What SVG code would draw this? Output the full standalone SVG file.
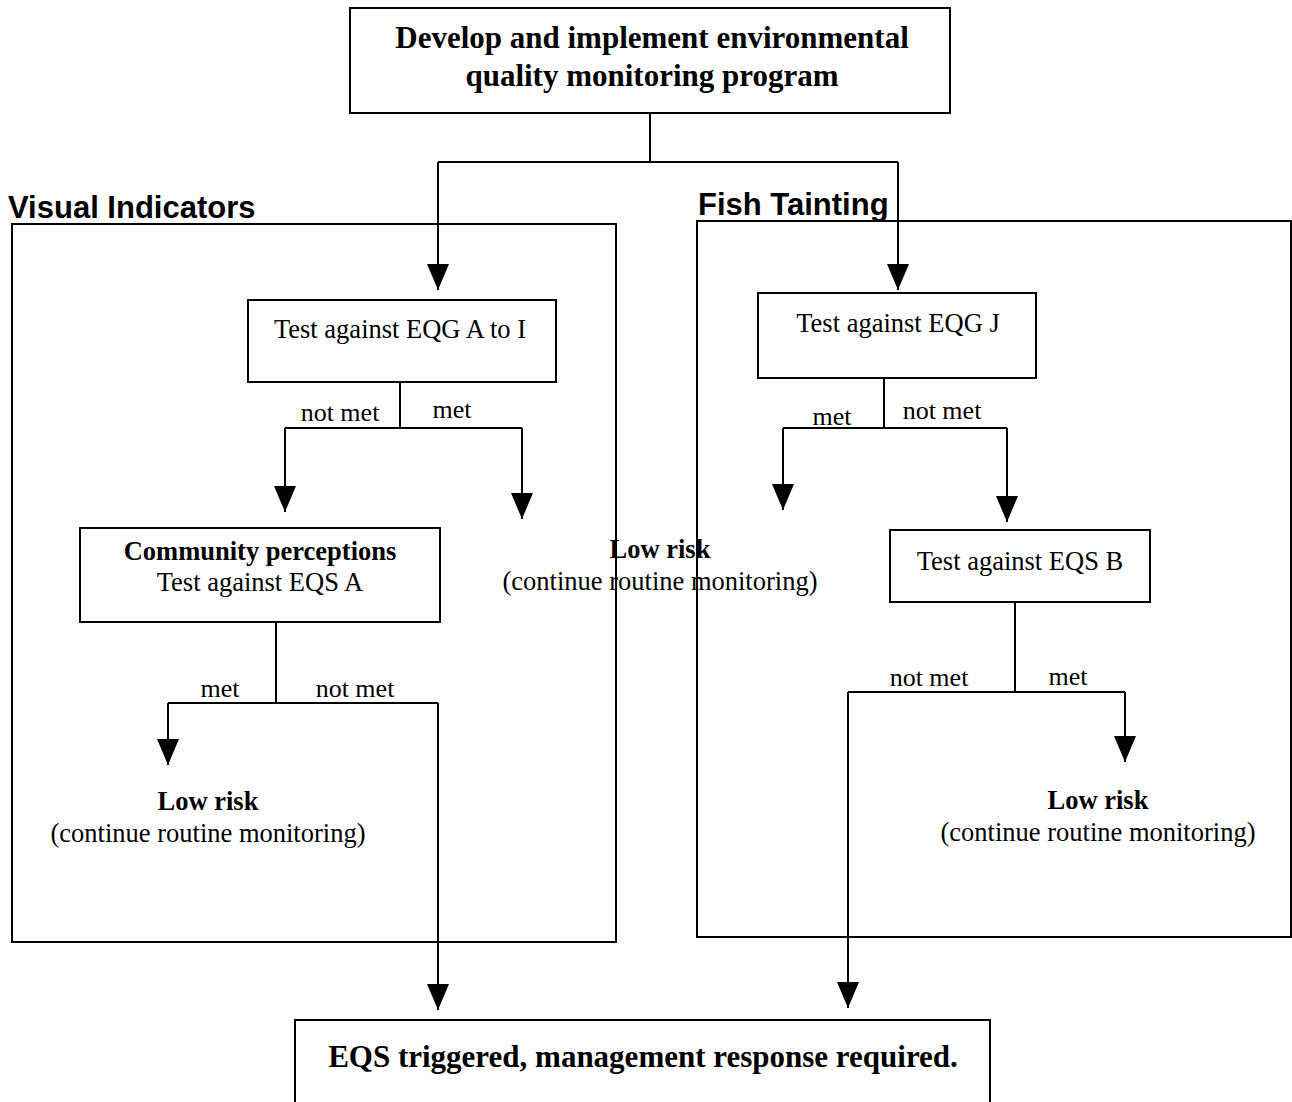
<svg xmlns="http://www.w3.org/2000/svg" width="1292" height="1102" viewBox="0 0 1292 1102">
  <style>
    .box { fill: #fff; stroke: #000; stroke-width: 2; }
    .panel { fill: none; stroke: #000; stroke-width: 2; }
    .wire { fill: none; stroke: #000; stroke-width: 2; }
    .head { fill: #000; }
    .t { font-family: "Liberation Serif", "Times New Roman", serif; fill: #000; text-anchor: middle; }
    .body { font-size: 26.5px; }
    .bold { font-weight: bold; }
    .big { font-size: 31px; font-weight: bold; }
    .lbl { font-size: 26px; }
    .head-title { font-family: "Liberation Sans", Arial, sans-serif; font-weight: bold; font-size: 31px; fill: #000; }
  </style>
  <defs>
    <!-- solid triangular arrowhead, tip at the end of the line -->
    <marker id="arrow" markerWidth="26" markerHeight="22" refX="26" refY="11" orient="auto" markerUnits="userSpaceOnUse" viewBox="0 0 26 22">
      <path d="M0,0 L26,11 L0,22 Z" class="head"/>
    </marker>
  </defs>
  <rect width="1292" height="1102" fill="#fff"/>

  <!-- section headings -->
  <text class="head-title" x="8" y="218">Visual Indicators</text>
  <text class="head-title" x="698" y="215">Fish Tainting</text>

  <!-- free-standing outcome labels -->
  <g id="lowrisk-mid">
    <text class="t body bold" x="660" y="558">Low risk</text>
    <text class="t body" x="660" y="590">(continue routine monitoring)</text>
  </g>
  <g id="lowrisk-left">
    <text class="t body bold" x="208" y="810">Low risk</text>
    <text class="t body" x="208" y="842">(continue routine monitoring)</text>
  </g>
  <g id="lowrisk-right">
    <text class="t body bold" x="1098" y="809">Low risk</text>
    <text class="t body" x="1098" y="841">(continue routine monitoring)</text>
  </g>

  <!-- section panels -->
  <g id="panel-visual">
    <rect class="panel" x="12" y="224" width="604" height="718"/>
  </g>
  <g id="panel-fish">
    <rect class="panel" x="697" y="221" width="594" height="716"/>
  </g>

  <!-- connectors -->
  <g id="connectors">
    <path class="wire" d="M650,113 V162 M438,162 H898"/>
    <path class="wire" d="M438,162 V290" marker-end="url(#arrow)"/>
    <path class="wire" d="M898,162 V290" marker-end="url(#arrow)"/>

    <path class="wire" d="M400,382 V428 M285,428 H522"/>
    <path class="wire" d="M285,428 V512" marker-end="url(#arrow)"/>
    <path class="wire" d="M522,428 V519" marker-end="url(#arrow)"/>

    <path class="wire" d="M276,622 V703 M168,703 H438"/>
    <path class="wire" d="M168,703 V765" marker-end="url(#arrow)"/>
    <path class="wire" d="M438,703 V1010" marker-end="url(#arrow)"/>

    <path class="wire" d="M884,378 V428 M783,428 H1007"/>
    <path class="wire" d="M783,428 V510" marker-end="url(#arrow)"/>
    <path class="wire" d="M1007,428 V522" marker-end="url(#arrow)"/>

    <path class="wire" d="M1015,602 V692 M848,692 H1125"/>
    <path class="wire" d="M1125,692 V762" marker-end="url(#arrow)"/>
    <path class="wire" d="M848,692 V1008" marker-end="url(#arrow)"/>

    <text class="t lbl" x="340" y="421">not met</text>
    <text class="t lbl" x="452" y="418">met</text>
    <text class="t lbl" x="832" y="425">met</text>
    <text class="t lbl" x="942" y="419">not met</text>
    <text class="t lbl" x="220" y="697">met</text>
    <text class="t lbl" x="355" y="697">not met</text>
    <text class="t lbl" x="929" y="686">not met</text>
    <text class="t lbl" x="1068" y="685">met</text>
  </g>

  <!-- process boxes -->
  <g id="start">
    <rect class="box" x="350" y="8" width="600" height="105"/>
    <text class="t big" x="652" y="48">Develop and implement environmental</text>
    <text class="t big" x="652" y="86">quality monitoring program</text>
  </g>
  <g id="test-eqg-a-i">
    <rect class="box" x="248" y="300" width="308" height="82"/>
    <text class="t body" x="400" y="338">Test against EQG A to I</text>
  </g>
  <g id="community">
    <rect class="box" x="80" y="528" width="360" height="94"/>
    <text class="t body bold" x="260" y="560">Community perceptions</text>
    <text class="t body" x="260" y="591">Test against EQS A</text>
  </g>
  <g id="test-eqg-j">
    <rect class="box" x="758" y="293" width="278" height="85"/>
    <text class="t body" x="898" y="332">Test against EQG J</text>
  </g>
  <g id="test-eqs-b">
    <rect class="box" x="890" y="530" width="260" height="72"/>
    <text class="t body" x="1020" y="570">Test against EQS B</text>
  </g>
  <g id="eqs-triggered">
    <rect class="box" x="295" y="1020" width="695" height="100"/>
    <text class="t big" x="643" y="1067">EQS triggered, management response required.</text>
  </g>
</svg>
